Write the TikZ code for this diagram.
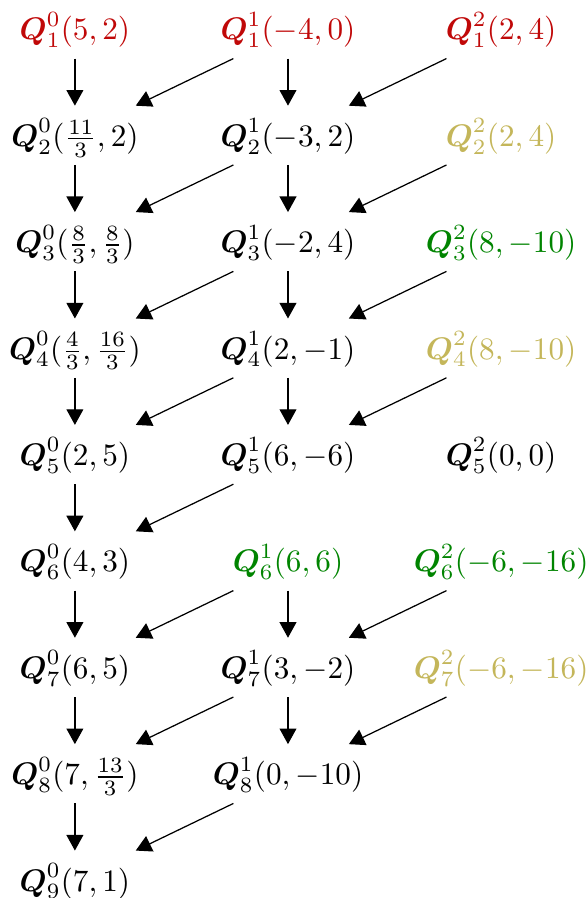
\documentclass[tikz,border=0pt]{standalone}
\usepackage{amsmath,amsbsy}
\usepackage{tikz}
\usetikzlibrary{arrows.meta,positioning}
\definecolor{qred}{RGB}{192,8,8}
\definecolor{qgreen}{RGB}{0,132,0}
\definecolor{qolive}{RGB}{196,182,90}
\newcommand{\qlab}[3]{$\boldsymbol{Q}^{#1}_{#2}(#3)$}
\tikzset{
  qnode/.style  ={inner sep=3.33pt,text height=9.5pt,text depth=2.44pt},
  qfirst/.style ={qnode,text=qred},
  qgood/.style  ={qnode,text=qgreen},
  qold/.style   ={qnode,text=qolive},
  arrow/.style  ={-{Triangle[length=5pt,width=5.4pt]},line width=0.4pt}
}
\begin{document}
\begin{tikzpicture}[node distance=15.1pt]
    \useasboundingbox (-24pt,9.27pt) rectangle (164.1pt,-278.5pt);
    % first row
    \node[qfirst] (a1) at (0,0)     {\qlab{0}{1}{5,2}};
    \node[qfirst] (b1) at (2.4cm,0) {\qlab{1}{1}{-4,0}};
    \node[qfirst] (c1) at (4.8cm,0) {\qlab{2}{1}{2,4}};
    % column 0
    \node[qnode,below=of a1] (a2) {\qlab{0}{2}{\frac{11}{3},2}};
    \node[qnode,below=of a2] (a3) {\qlab{0}{3}{\frac{8}{3},\frac{8}{3}}};
    \node[qnode,below=of a3] (a4) {\qlab{0}{4}{\frac{4}{3},\frac{16}{3}}};
    \node[qnode,below=of a4] (a5) {\qlab{0}{5}{2,5}};
    \node[qnode,below=of a5] (a6) {\qlab{0}{6}{4,3}};
    \node[qnode,below=of a6] (a7) {\qlab{0}{7}{6,5}};
    \node[qnode,below=of a7] (a8) {\qlab{0}{8}{7,\frac{13}{3}}};
    \node[qnode,below=of a8] (a9) {\qlab{0}{9}{7,1}};
    % column 1
    \node[qnode,below=of b1] (b2) {\qlab{1}{2}{-3,2}};
    \node[qnode,below=of b2] (b3) {\qlab{1}{3}{-2,4}};
    \node[qnode,below=of b3] (b4) {\qlab{1}{4}{2,-1}};
    \node[qnode,below=of b4] (b5) {\qlab{1}{5}{6,-6}};
    \node[qgood,below=of b5] (b6) {\qlab{1}{6}{6,6}};
    \node[qnode,below=of b6] (b7) {\qlab{1}{7}{3,-2}};
    \node[qnode,below=of b7] (b8) {\qlab{1}{8}{0,-10}};
    % column 2
    \node[qold, below=of c1] (c2) {\qlab{2}{2}{2,4}};
    \node[qgood,below=of c2] (c3) {\qlab{2}{3}{8,-10}};
    \node[qold, below=of c3] (c4) {\qlab{2}{4}{8,-10}};
    \node[qnode,below=of c4] (c5) {\qlab{2}{5}{0,0}};
    \node[qgood,below=of c5] (c6) {\qlab{2}{6}{-6,-16}};
    \node[qold, below=of c6] (c7) {\qlab{2}{7}{-6,-16}};
    % down arrows
    \draw[arrow] (a1) -- (a2);
    \draw[arrow] (a2) -- (a3);
    \draw[arrow] (a3) -- (a4);
    \draw[arrow] (a4) -- (a5);
    \draw[arrow] (a5) -- (a6);
    \draw[arrow] (a6) -- (a7);
    \draw[arrow] (a7) -- (a8);
    \draw[arrow] (a8) -- (a9);
    \draw[arrow] (b1) -- (b2);
    \draw[arrow] (b2) -- (b3);
    \draw[arrow] (b3) -- (b4);
    \draw[arrow] (b4) -- (b5);
    \draw[arrow] (b6) -- (b7);
    \draw[arrow] (b7) -- (b8);
    % slanted arrows
    \draw[arrow] ([xshift=-17.5pt]b1.south) -- ([xshift=19.5pt]a2.north);
    \draw[arrow] ([xshift=-17.5pt]b2.south) -- ([xshift=19.5pt]a3.north);
    \draw[arrow] ([xshift=-17.5pt]b3.south) -- ([xshift=19.5pt]a4.north);
    \draw[arrow] ([xshift=-17.5pt]b4.south) -- ([xshift=19.5pt]a5.north);
    \draw[arrow] ([xshift=-17.5pt]b5.south) -- ([xshift=19.5pt]a6.north);
    \draw[arrow] ([xshift=-17.5pt]b6.south) -- ([xshift=19.5pt]a7.north);
    \draw[arrow] ([xshift=-17.5pt]b7.south) -- ([xshift=19.5pt]a8.north);
    \draw[arrow] ([xshift=-17.5pt]b8.south) -- ([xshift=19.5pt]a9.north);
    \draw[arrow] ([xshift=-17.5pt]c1.south) -- ([xshift=19.5pt]b2.north);
    \draw[arrow] ([xshift=-17.5pt]c2.south) -- ([xshift=19.5pt]b3.north);
    \draw[arrow] ([xshift=-17.5pt]c3.south) -- ([xshift=19.5pt]b4.north);
    \draw[arrow] ([xshift=-17.5pt]c4.south) -- ([xshift=19.5pt]b5.north);
    \draw[arrow] ([xshift=-17.5pt]c6.south) -- ([xshift=19.5pt]b7.north);
    \draw[arrow] ([xshift=-17.5pt]c7.south) -- ([xshift=19.5pt]b8.north);
\end{tikzpicture}
\end{document}
